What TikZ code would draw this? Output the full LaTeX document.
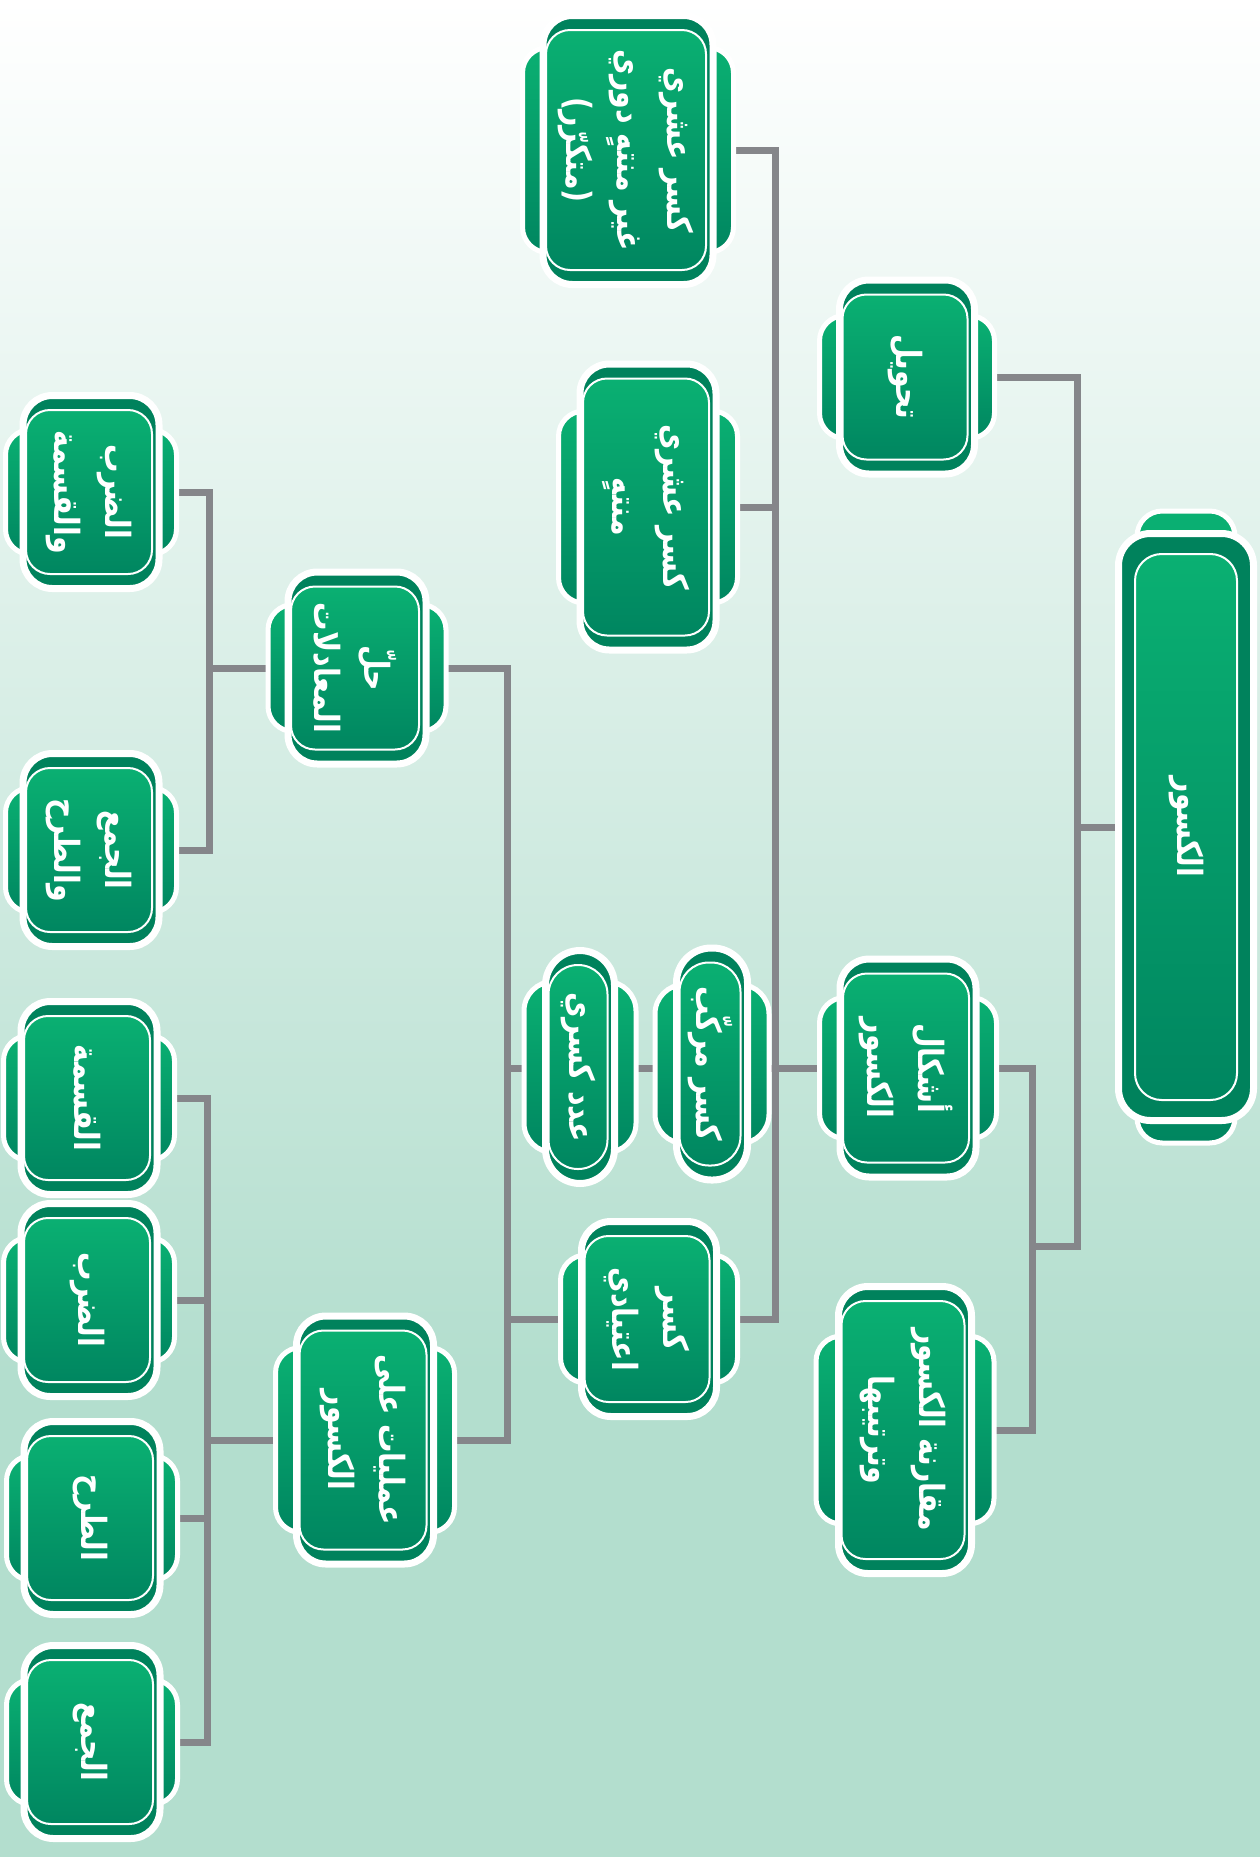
\documentclass[tikz,border=0pt]{standalone}
\usepackage{fontspec}
\newfontfamily\arabicfont[Script=Arabic,FakeStretch=0.82]{DejaVu Sans}
\TeXXeTstate=1
\definecolor{gtop}{RGB}{10,176,114}
\definecolor{gbot}{RGB}{0,134,96}
\definecolor{cdark}{RGB}{0,130,92}
\definecolor{mint}{RGB}{179,222,206}
\definecolor{lgray}{RGB}{133,134,138}
\pgfdeclarelayer{back}\pgfdeclarelayer{lines}\pgfsetlayers{back,lines,main}
\pgfdeclareverticalshading{bgshade}{100bp}{color(0bp)=(mint); color(25bp)=(mint); color(38bp)=(mint); color(75bp)=(white); color(100bp)=(white)}
\tikzset{
  earbox/.style={draw=white, line width=3.75pt, top color=gtop, bottom color=gbot, inner sep=0pt, rectangle},
  cardbox/.style={draw=white, line width=5.25pt, fill=cdark, inner sep=0pt, rectangle},
  innerbox/.style={draw=white, line width=1.5pt, top color=gtop, bottom color=gbot, inner sep=0pt, rectangle},
  txt/.style={rotate=-90, text=white, font=\arabicfont\bfseries\fontsize{26}{38}\selectfont, align=center, inner sep=0pt},
  conn/.style={draw=lgray, line width=5.25pt}
}
\newcommand{\ar}[1]{\beginR #1\endR}
\newcommand{\mapnode}[9][]{%
  \def\inx{17}\def\iny{36}\def\ish{-2}\def\rad{22}\def\erad{19}#1%
  \pgfmathsetmacro\irad{\rad-4}%
  \node[earbox, rounded corners=\erad pt, minimum width={(#7-5)*0.75pt}, minimum height={(#8-5)*0.75pt}] (#2-ear) at (#3,#4) {};
  \node[cardbox, rounded corners=\rad pt, minimum width={(#5-7)*0.75pt}, minimum height={(#6-7)*0.75pt}] (#2) at (#3,#4) {};
  \node[innerbox, rounded corners=\irad pt, minimum width={(#5-\inx)*0.75pt}, minimum height={(#6-\iny)*0.75pt}] (#2-in) at (#3+\ish,#4) {};
  \node[txt] (#2-t) at (#2-in.center) {#9};
}
\begin{document}
\begin{tikzpicture}[x=0.75pt,y=-0.75pt]
\useasboundingbox (0,0) rectangle (1260,1857);
\begin{pgfonlayer}{back}
\shade[shading=bgshade] (0,0) rectangle (1260,1857);
\end{pgfonlayer}

% root
\mapnode[\def\inx{40}\def\iny{48}\def\ish{0}\def\rad{24}]{root}{1186}{827}{142}{594}{103}{637}{\ar{الكسور}}
% level 2
\mapnode{tahwil}{907}{377}{142}{201}{180}{128}{\ar{تحويل}}
\mapnode{ashkal}{908}{1068}{143}{225}{182}{146}{\ar{أشكال}\\\ar{الكسور}}
\mapnode{muqarana}{905}{1430}{140}{294}{183}{193}{\ar{مقارنة الكسور}\\\ar{وترتيبها}}
% level 3
\mapnode{ghayr}{628}{150}{177}{276}{216}{210}{\ar{كسر عشري}\\\ar{غير منتهٍ دوري}\\\ar{(متكرّر)}}
\mapnode{muntahi}{648}{507}{143}{293}{184}{197}{\ar{كسر عشري}\\\ar{منتهٍ}}
\mapnode[\def\rad{26}\def\erad{22}]{murakkab}{712}{1064}{78}{239}{119}{164}{\ar{كسر مركّب}}
\mapnode[\def\rad{26}\def\erad{22}]{adad}{580}{1067}{76}{240}{117}{176}{\ar{عدد كسري}}
\mapnode{itiyadi}{649}{1319}{142}{202}{182}{133}{\ar{كسر}\\\ar{اعتيادي}}
% level 4
\mapnode{hall}{357}{668}{145}{199}{183}{132}{\ar{حلّ}\\\ar{المعادلات}}
\mapnode{amaliyat}{365}{1440}{144}{255}{184}{190}{\ar{عمليات على}\\\ar{الكسور}}
% level 5
\mapnode{darbqisma}{91}{492}{143}{200}{176}{130}{\ar{الضرب}\\\ar{والقسمة}}
\mapnode{jamtarh}{91}{850}{143}{200}{176}{130}{\ar{الجمع}\\\ar{والطرح}}
\mapnode{qisma}{89}{1098}{143}{200}{176}{130}{\ar{القسمة}}
\mapnode{darb}{89}{1300}{143}{200}{176}{130}{\ar{الضرب}}
\mapnode{tarh}{92}{1518}{143}{200}{176}{130}{\ar{الطرح}}
\mapnode{jam}{92}{1742}{143}{200}{176}{130}{\ar{الجمع}}

\begin{pgfonlayer}{lines}
\coordinate (b1) at (1077,1246);
\coordinate (b1s) at (1032,1246);
\coordinate (b2) at (775,1319);
\coordinate (b3) at (507,1440);
\coordinate (b4) at (209,668);
\coordinate (b5) at (207,1440);
\draw[conn] (tahwil.center) -| (b1) -- (b1s);
\draw[conn] (root.center) -- (root.center -| b1);
\draw[conn] (ashkal.center) -| (b1s) |- (muqarana.center);
\draw[conn] (ghayr.center) -| (b2) -- (itiyadi.center);
\draw[conn] (muntahi.center) -- (muntahi.center -| b2);
\draw[conn] (ashkal.center) -- (ashkal.center -| b3);
\draw[conn] (hall.center) -| (b3) -- (amaliyat.center);
\draw[conn] (itiyadi.center) -- (itiyadi.center -| b3);
\draw[conn] (darbqisma.center) -| (b4) |- (jamtarh.center);
\draw[conn] (hall.center) -- (b4);
\draw[conn] (qisma.center) -| (b5) |- (jam.center);
\draw[conn] (darb.center) -- (darb.center -| b5);
\draw[conn] (tarh.center) -- (tarh.center -| b5);
\draw[conn] (amaliyat.center) -- (b5);
\end{pgfonlayer}
\end{tikzpicture}
\end{document}
